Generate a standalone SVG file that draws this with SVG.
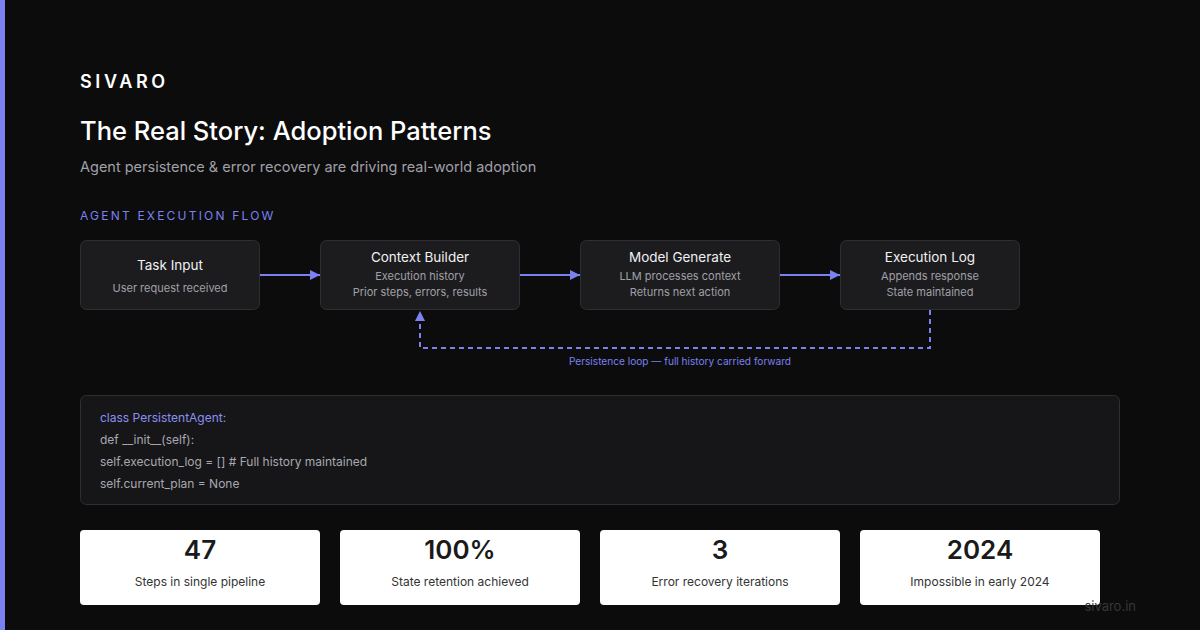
<svg xmlns="http://www.w3.org/2000/svg" width="1200" height="630" viewBox="0 0 1200 630">
<defs>
<style>
.t{font-family:Inter,"Liberation Sans",sans-serif}
.node{fill:#1c1c1e;stroke:#2f2f33;stroke-width:1}
.nt{font-size:13.5px;fill:#f0f0f2;text-anchor:middle}
.ns{font-size:11px;fill:#a0a0a8;text-anchor:middle}
.conn{stroke:#7b80f2;stroke-width:2;fill:none}
.card{fill:#ffffff}
.num{font-size:26px;font-weight:600;fill:#1a1a1a;text-anchor:middle}
.lbl{font-size:12px;fill:#333333;text-anchor:middle}
.code{font-size:12px;fill:#a8a8b0}
</style>
<marker id="ah" viewBox="0 0 10 10" refX="10" refY="5" markerWidth="10" markerHeight="10" markerUnits="userSpaceOnUse" orient="auto">
<path d="M0,0 L10,5 L0,10 z" fill="#7b80f2"/>
</marker>
</defs>
<rect width="1200" height="630" fill="#0c0c0c"/>
<rect x="0" y="0" width="5" height="630" fill="#7b80f2"/>
<text class="t" x="80" y="88" font-size="18" font-weight="600" fill="#ffffff" letter-spacing="3.6">SIVARO</text>
<text class="t" x="80" y="140" font-size="25.5" font-weight="500" fill="#ffffff">The Real Story: Adoption Patterns</text>
<text class="t" x="80" y="172" font-size="14.5" fill="#a0a0a8">Agent persistence &amp; error recovery are driving real-world adoption</text>
<text class="t" x="80" y="220" font-size="12" fill="#7b80f2" letter-spacing="2.2">AGENT EXECUTION FLOW</text>

<g id="connectors">
<line class="conn" x1="260" y1="275" x2="320" y2="275" marker-end="url(#ah)"/>
<line class="conn" x1="520" y1="275" x2="580" y2="275" marker-end="url(#ah)"/>
<line class="conn" x1="780" y1="275" x2="840" y2="275" marker-end="url(#ah)"/>
<path class="conn" d="M930,310 V348 H420 V311" stroke-width="1.5" stroke-dasharray="5,4" marker-end="url(#ah)"/>
<text class="t" x="680" y="365" font-size="10.1" fill="#7b80f2" text-anchor="middle">Persistence loop — full history carried forward</text>
</g>

<g id="node-task-input">
<rect class="node" x="80.5" y="240.5" width="179" height="69" rx="6"/>
<text class="t nt" x="170" y="270">Task Input</text>
<text class="t ns" x="170" y="292">User request received</text>
</g>
<g id="node-context-builder">
<rect class="node" x="320.5" y="240.5" width="199" height="69" rx="6"/>
<text class="t nt" x="420" y="262">Context Builder</text>
<text class="t ns" x="420" y="280">Execution history</text>
<text class="t ns" x="420" y="296">Prior steps, errors, results</text>
</g>
<g id="node-model-generate">
<rect class="node" x="580.5" y="240.5" width="199" height="69" rx="6"/>
<text class="t nt" x="680" y="262">Model Generate</text>
<text class="t ns" x="680" y="280">LLM processes context</text>
<text class="t ns" x="680" y="296">Returns next action</text>
</g>
<g id="node-execution-log">
<rect class="node" x="840.5" y="240.5" width="179" height="69" rx="6"/>
<text class="t nt" x="930" y="262">Execution Log</text>
<text class="t ns" x="930" y="280">Appends response</text>
<text class="t ns" x="930" y="296">State maintained</text>
</g>

<g id="code-block">
<rect x="80.5" y="395.5" width="1039" height="109" rx="6" fill="#161618" stroke="#2f2f33"/>
<text class="t code" x="100" y="422" style="fill:#8b8ff2">class PersistentAgent:</text>
<text class="t code" x="100" y="444">def __init__(self):</text>
<text class="t code" x="100" y="466">self.execution_log = [] # Full history maintained</text>
<text class="t code" x="100" y="488">self.current_plan = None</text>
</g>

<g id="stat-1">
<rect class="card" x="80" y="530" width="240" height="75" rx="4"/>
<text class="t num" x="200" y="559">47</text>
<text class="t lbl" x="200" y="586">Steps in single pipeline</text>
</g>
<g id="stat-2">
<rect class="card" x="340" y="530" width="240" height="75" rx="4"/>
<text class="t num" x="460" y="559">100%</text>
<text class="t lbl" x="460" y="586">State retention achieved</text>
</g>
<g id="stat-3">
<rect class="card" x="600" y="530" width="240" height="75" rx="4"/>
<text class="t num" x="720" y="559">3</text>
<text class="t lbl" x="720" y="586">Error recovery iterations</text>
</g>
<g id="stat-4">
<rect class="card" x="860" y="530" width="240" height="75" rx="4"/>
<text class="t num" x="980" y="559">2024</text>
<text class="t lbl" x="980" y="586">Impossible in early 2024</text>
</g>
<text class="t" x="1136" y="611" font-size="13" fill="#363638" text-anchor="end">sivaro.in</text>
</svg>
